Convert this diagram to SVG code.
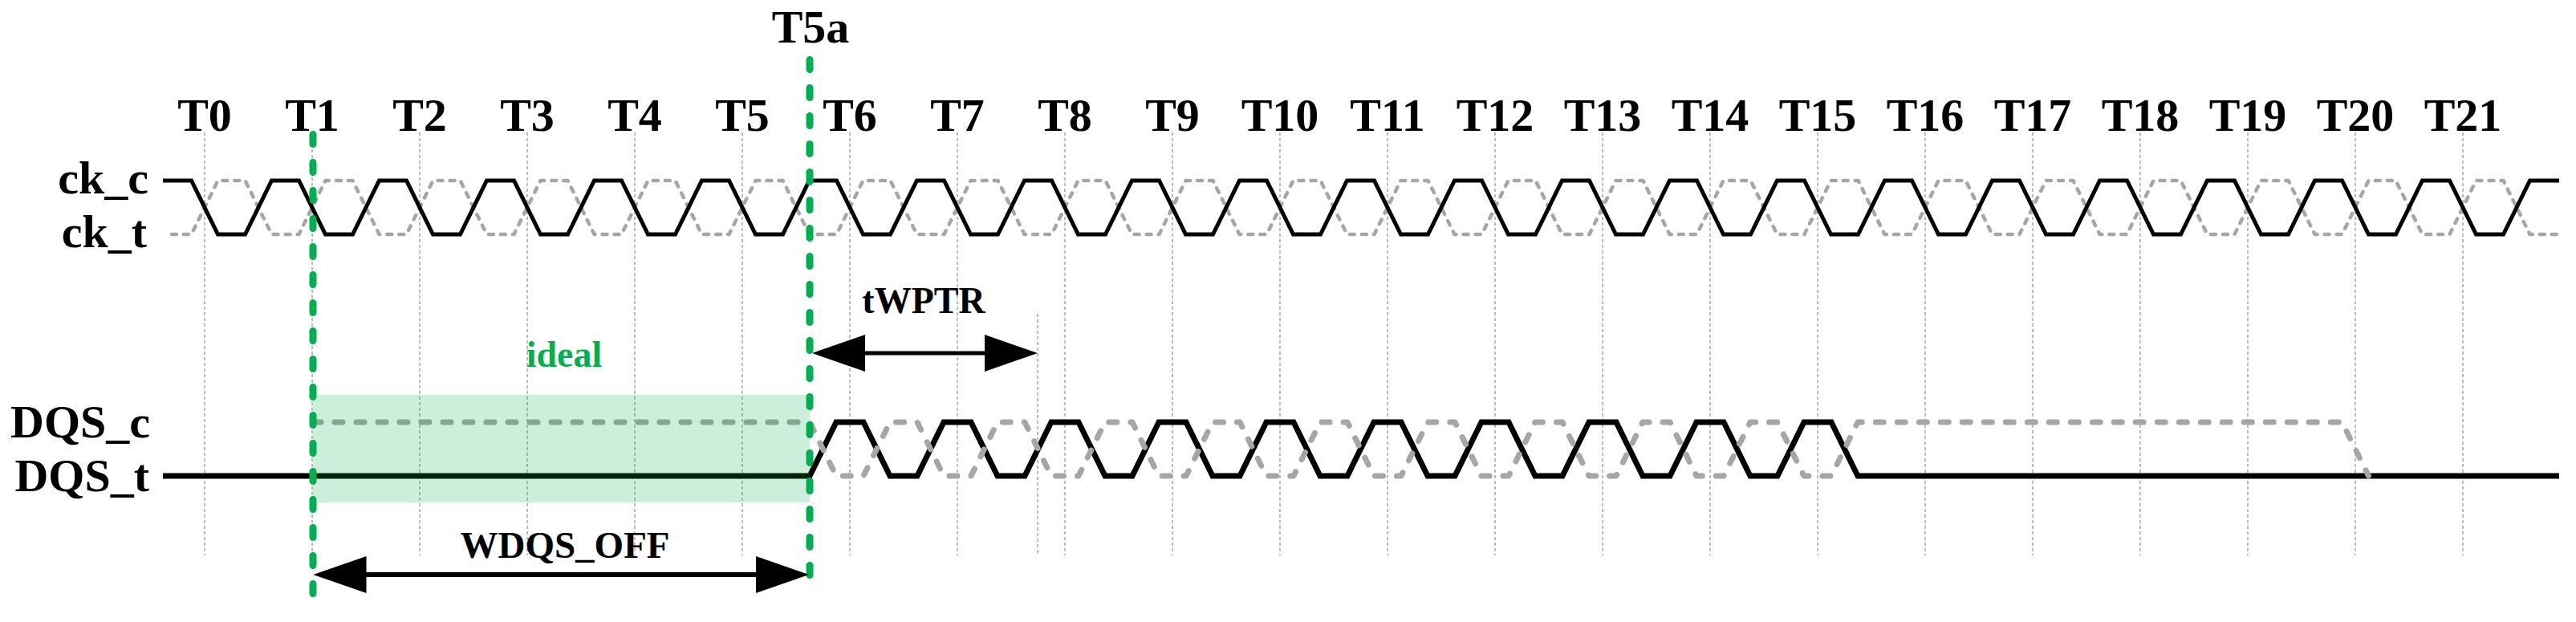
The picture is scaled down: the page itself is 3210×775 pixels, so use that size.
<svg xmlns="http://www.w3.org/2000/svg" width="3210" height="775" viewBox="0 0 3210 775">
<defs>
<style>
text{font-family:"Liberation Serif","Times New Roman",serif;font-weight:bold;fill:#000}
.tl{font-size:58px;text-anchor:middle}
.sig{font-size:58px;text-anchor:end}
.lbl{font-size:47px;text-anchor:middle}
.green{fill:#00b050}
.grid{stroke:#a6a6a6;stroke-width:1.5;stroke-dasharray:4 3;fill:none}
.wb{fill:none;stroke:#000;stroke-width:5;stroke-linejoin:miter}
.wg{fill:none;stroke:#a6a6a6;stroke-width:4.5;stroke-dasharray:6 9;stroke-linecap:round;stroke-linejoin:round}
.db{fill:none;stroke:#000;stroke-width:7;stroke-linejoin:miter}
.dg{fill:none;stroke:#a6a6a6;stroke-width:7;stroke-dasharray:10 17;stroke-linecap:round;stroke-linejoin:round}
.gl{stroke:#00b050;stroke-width:9;stroke-dasharray:12 23;stroke-linecap:round;fill:none}
.arr{stroke:#000;fill:none;marker-start:url(#ah);marker-end:url(#ah)}
</style>
<marker id="ah" markerUnits="userSpaceOnUse" markerWidth="66" markerHeight="46" refX="58" refY="23" orient="auto-start-reverse" viewBox="0 0 66 46"><path d="M0,0 L66,23 L0,46 z" fill="#000"/></marker>
</defs>
<rect width="3210" height="775" fill="#fff"/>

<g id="grid">
<line class="grid" x1="255" y1="165" x2="255" y2="692"/>
<line class="grid" x1="389" y1="165" x2="389" y2="692"/>
<line class="grid" x1="523" y1="165" x2="523" y2="692"/>
<line class="grid" x1="657" y1="165" x2="657" y2="692"/>
<line class="grid" x1="791" y1="165" x2="791" y2="692"/>
<line class="grid" x1="925" y1="165" x2="925" y2="692"/>
<line class="grid" x1="1059" y1="165" x2="1059" y2="692"/>
<line class="grid" x1="1193" y1="165" x2="1193" y2="692"/>
<line class="grid" x1="1327" y1="165" x2="1327" y2="692"/>
<line class="grid" x1="1461" y1="165" x2="1461" y2="692"/>
<line class="grid" x1="1595" y1="165" x2="1595" y2="692"/>
<line class="grid" x1="1729" y1="165" x2="1729" y2="692"/>
<line class="grid" x1="1863" y1="165" x2="1863" y2="692"/>
<line class="grid" x1="1997" y1="165" x2="1997" y2="692"/>
<line class="grid" x1="2131" y1="165" x2="2131" y2="692"/>
<line class="grid" x1="2265" y1="165" x2="2265" y2="692"/>
<line class="grid" x1="2399" y1="165" x2="2399" y2="692"/>
<line class="grid" x1="2533" y1="165" x2="2533" y2="692"/>
<line class="grid" x1="2667" y1="165" x2="2667" y2="692"/>
<line class="grid" x1="2801" y1="165" x2="2801" y2="692"/>
<line class="grid" x1="2935" y1="165" x2="2935" y2="692"/>
<line class="grid" x1="3069" y1="165" x2="3069" y2="692"/>
<line class="grid" x1="1293" y1="391" x2="1293" y2="692"/>
</g>

<g id="clock">
<path id="ck_t_wave" class="wg" d="M214,292H238.5l33,-67h34l33,67h34l33,-67h34l33,67h34l33,-67h34l33,67h34l33,-67h34l33,67h34l33,-67h34l33,67h34l33,-67h34l33,67h34l33,-67h34l33,67h34l33,-67h34l33,67h34l33,-67h34l33,67h34l33,-67h34l33,67h34l33,-67h34l33,67h34l33,-67h34l33,67h34l33,-67h34l33,67h34l33,-67h34l33,67h34l33,-67h34l33,67h34l33,-67h34l33,67h34l33,-67h34l33,67h34l33,-67h34l33,67h34l33,-67h34l33,67h34l33,-67h34l33,67h34l33,-67h34l33,67h34l33,-67h34l33,67h34H3189"/>
<path id="ck_c_wave" class="wb" d="M203,225H238.5l33,67h34l33,-67h34l33,67h34l33,-67h34l33,67h34l33,-67h34l33,67h34l33,-67h34l33,67h34l33,-67h34l33,67h34l33,-67h34l33,67h34l33,-67h34l33,67h34l33,-67h34l33,67h34l33,-67h34l33,67h34l33,-67h34l33,67h34l33,-67h34l33,67h34l33,-67h34l33,67h34l33,-67h34l33,67h34l33,-67h34l33,67h34l33,-67h34l33,67h34l33,-67h34l33,67h34l33,-67h34l33,67h34l33,-67h34l33,67h34l33,-67h34l33,67h34l33,-67h34l33,67h34l33,-67h34l33,67h34l33,-67h34H3189"/>
</g>

<g id="dqs">
<path id="dqs_t_wave" class="db" d="M203,593H1009l33,-67h34l33,67h34l33,-67h34l33,67h34l33,-67h34l33,67h34l33,-67h34l33,67h34l33,-67h34l33,67h34l33,-67h34l33,67h34l33,-67h34l33,67h34l33,-67h34l33,67h34l33,-67h34l33,67h34l33,-67h34l33,67h34H3189"/>
<path id="dqs_c_wave" class="dg" d="M390,526H1009l33,67h34l33,-67h34l33,67h34l33,-67h34l33,67h34l33,-67h34l33,67h34l33,-67h34l33,67h34l33,-67h34l33,67h34l33,-67h34l33,67h34l33,-67h34l33,67h34l33,-67h34l33,67h34l33,-67h34l33,67h34l33,-67h34H2918.5l33,67"/>
</g>

<g id="ideal-window">
<rect x="390" y="492" width="619" height="134" fill="#00b050" fill-opacity="0.2"/>
<text class="lbl green" x="703" y="457" style="font-size:46px">ideal</text>
</g>

<g id="markers">
<line id="T1-marker" class="gl" x1="390" y1="167.5" x2="390" y2="748"/>
<line id="T5a-marker" class="gl" x1="1009" y1="74.5" x2="1009" y2="728"/>
</g>

<g id="connectors">
<line id="tWPTR-arrow" class="arr" x1="1020" y1="440" x2="1285" y2="440" stroke-width="5"/>
<line id="WDQS_OFF-arrow" class="arr" x1="398.5" y1="716" x2="1000" y2="716" stroke-width="6"/>
</g>

<g id="labels">
<text class="tl" x="255" y="163">T0</text>
<text class="tl" x="389" y="163">T1</text>
<text class="tl" x="523" y="163">T2</text>
<text class="tl" x="657" y="163">T3</text>
<text class="tl" x="791" y="163">T4</text>
<text class="tl" x="925" y="163">T5</text>
<text class="tl" x="1059" y="163">T6</text>
<text class="tl" x="1193" y="163">T7</text>
<text class="tl" x="1327" y="163">T8</text>
<text class="tl" x="1461" y="163">T9</text>
<text class="tl" x="1595" y="163">T10</text>
<text class="tl" x="1729" y="163">T11</text>
<text class="tl" x="1863" y="163">T12</text>
<text class="tl" x="1997" y="163">T13</text>
<text class="tl" x="2131" y="163">T14</text>
<text class="tl" x="2265" y="163">T15</text>
<text class="tl" x="2399" y="163">T16</text>
<text class="tl" x="2533" y="163">T17</text>
<text class="tl" x="2667" y="163">T18</text>
<text class="tl" x="2801" y="163">T19</text>
<text class="tl" x="2935" y="163">T20</text>
<text class="tl" x="3069" y="163">T21</text>
<text class="tl" x="1010" y="53">T5a</text>
<text class="sig" x="185" y="241">ck_c</text>
<text class="sig" x="183" y="308">ck_t</text>
<text class="sig" x="187" y="545">DQS_c</text>
<text class="sig" x="186" y="612">DQS_t</text>
<text class="lbl" x="1151" y="390" style="font-size:46px">tWPTR</text>
<text class="lbl" x="704" y="695">WDQS_OFF</text>
</g>
</svg>
